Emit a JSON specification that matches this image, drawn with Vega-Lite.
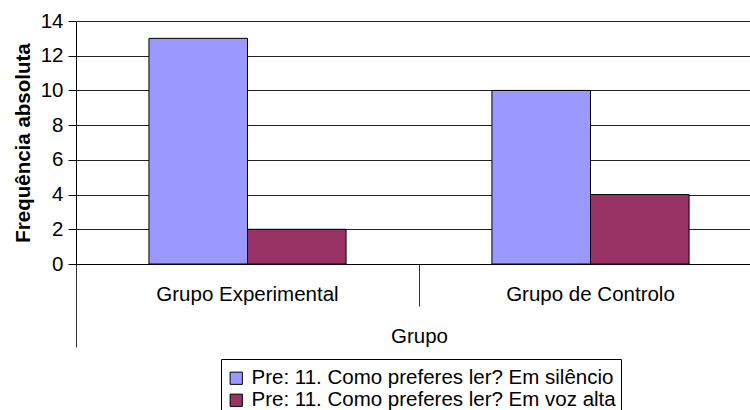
{
  "$schema": "https://vega.github.io/schema/vega-lite/v6.json",
  "autosize": "none",
  "padding": {"left": 76, "top": 21, "right": 0, "bottom": 146},
  "width": 674,
  "height": 243,
  "background": "white",
  "config": {
    "view": {"stroke": null},
    "font": "Liberation Sans"
  },
  "data": {
    "values": [
      {"grupo": "Grupo Experimental", "serie": "Pre: 11. Como preferes ler? Em silêncio", "freq": 13},
      {"grupo": "Grupo Experimental", "serie": "Pre: 11. Como preferes ler? Em voz alta", "freq": 2},
      {"grupo": "Grupo de Controlo", "serie": "Pre: 11. Como preferes ler? Em silêncio", "freq": 10},
      {"grupo": "Grupo de Controlo", "serie": "Pre: 11. Como preferes ler? Em voz alta", "freq": 4}
    ]
  },
  "mark": {"type": "bar", "stroke": "#000000", "strokeWidth": 1, "clip": false},
  "encoding": {
    "x": {
      "field": "grupo",
      "type": "nominal",
      "sort": ["Grupo Experimental", "Grupo de Controlo"],
      "scale": {"range": [0, 686], "paddingInner": 0, "paddingOuter": 0},
      "axis": {
        "title": "Grupo",
        "titleFontSize": 20.5,
        "titleFontWeight": "normal",
        "titleColor": "#000000",
        "titleY": 72,
        "titleBaseline": "middle",
        "labelFontSize": 20.5,
        "labelColor": "#000000",
        "labelAngle": 0,
        "labelBaseline": "middle",
        "labelPadding": {"condition": {"test": "datum.value === 'Grupo Experimental'", "value": -53}, "value": -12},
        "labelLimit": 400,
        "bandPosition": 0,
        "domainColor": "#000000",
        "domainWidth": 1,
        "tickColor": "#333333",
        "tickWidth": 1,
        "tickSize": {"condition": {"test": "datum.value === 'Grupo Experimental'", "value": 83}, "value": 42},
        "grid": false
      }
    },
    "xOffset": {
      "field": "serie",
      "type": "nominal",
      "scale": {"paddingInner": 0, "paddingOuter": 0.74}
    },
    "y": {
      "field": "freq",
      "type": "quantitative",
      "scale": {"domain": [0, 14], "nice": false},
      "axis": {
        "title": "Frequência absoluta",
        "titleFontSize": 20.5,
        "titleFontWeight": "bold",
        "titleColor": "#000000",
        "titlePadding": 7,
        "values": [0, 2, 4, 6, 8, 10, 12, 14],
        "labelFontSize": 20.5,
        "labelColor": "#000000",
        "labelPadding": 5,
        "tickSize": 8,
        "tickColor": "#000000",
        "domainColor": "#000000",
        "grid": true,
        "gridColor": "#222222",
        "gridOpacity": 1,
        "gridWidth": 1
      }
    },
    "color": {
      "field": "serie",
      "type": "nominal",
      "scale": {
        "domain": ["Pre: 11. Como preferes ler? Em silêncio", "Pre: 11. Como preferes ler? Em voz alta"],
        "range": ["#9999FF", "#993366"]
      },
      "legend": {
        "title": " ",
        "titleFontSize": 4,
        "titlePadding": 0,
        "orient": "none",
        "legendX": 145,
        "legendY": 338,
        "direction": "vertical",
        "strokeColor": "#000000",
        "fillColor": "#FFFFFF",
        "padding": 5,
        "symbolType": "square",
        "symbolSize": 150,
        "symbolStrokeColor": "#000000",
        "symbolStrokeWidth": 1,
        "symbolOpacity": 1,
        "labelFontSize": 20.5,
        "labelColor": "#000000",
        "labelLimit": 500,
        "labelOffset": 5,
        "rowPadding": 1
      }
    }
  }
}
